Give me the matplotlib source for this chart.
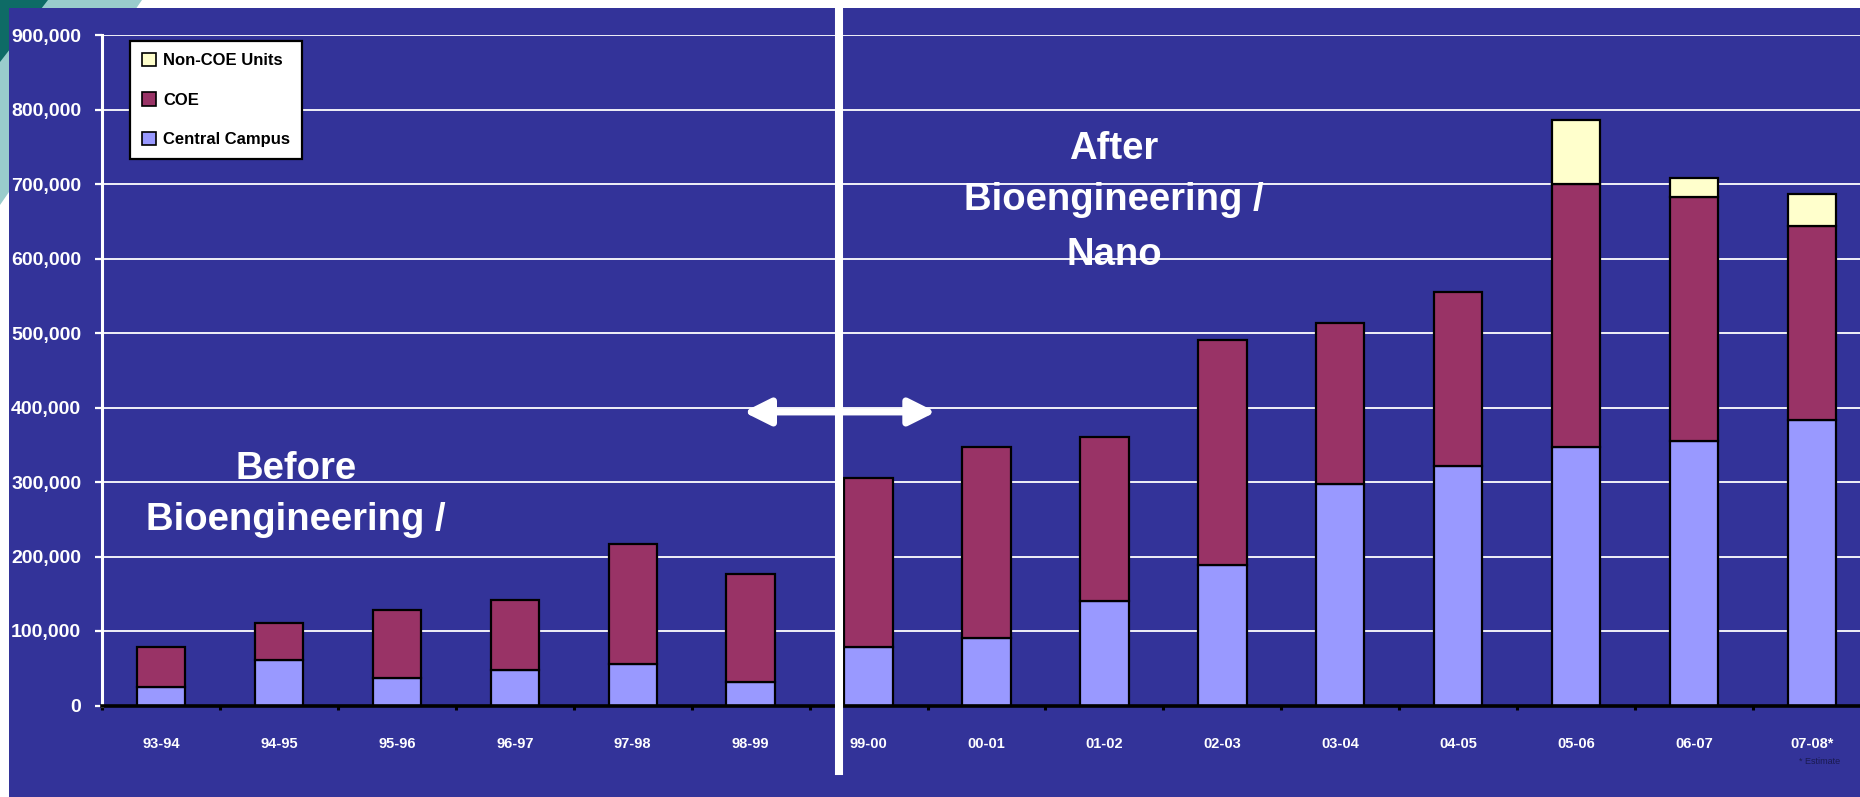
import matplotlib
matplotlib.use("Agg")
import matplotlib.pyplot as plt
import matplotlib.patches as mpatches
import matplotlib.transforms as mtransforms
from matplotlib.lines import Line2D
from matplotlib.ticker import FuncFormatter, FixedLocator
import numpy as np

# ---- data -------------------------------------------------------------
years = ["93-94", "94-95", "95-96", "96-97", "97-98", "98-99", "99-00",
         "00-01", "01-02", "02-03", "03-04", "04-05", "05-06", "06-07", "07-08*"]
central_campus = [25000, 61000, 37000, 48000, 56000, 31000, 78000, 90000,
                  140000, 189000, 297000, 322000, 347000, 355000, 383000]
coe = [53000, 50000, 91000, 94000, 161000, 145000, 228000, 257000,
       221000, 302000, 216000, 233000, 353000, 328000, 261000]
non_coe_units = [0, 0, 0, 0, 0, 0, 0, 0, 0, 0, 0, 0, 86000, 25000, 42000]
series_labels = ["Non-COE Units", "COE", "Central Campus"]
y_ticks = list(range(0, 900001, 100000))

# ---- style ------------------------------------------------------------
BLUE = "#333399"
LAVENDER = "#9999FF"
MAROON = "#993366"
CREAM = "#FFFFCC"
TEAL_LIGHT = "#99CCCC"
TEAL_DARK = "#0E6B66"
FONT = "Liberation Sans"

W, H = 1860, 797
fig = plt.figure(figsize=(W / 100, H / 100), dpi=100, facecolor="white")


def px(x, y):
    """Pixel position (from top-left) to figure fraction."""
    return x / W, 1 - y / H


# slide decoration in the top-left corner and the blue panel
fig.patches.append(mpatches.Polygon([px(0, 0), px(142, 0), px(0, 205)], closed=True,
                                    transform=fig.transFigure, fc=TEAL_LIGHT,
                                    ec="none", zorder=-3))
fig.patches.append(mpatches.Polygon([px(0, 0), px(48, 0), px(0, 62)], closed=True,
                                    transform=fig.transFigure, fc=TEAL_DARK,
                                    ec="none", zorder=-2))
fig.patches.append(mpatches.Rectangle(px(9, H), (W - 9) / W, (H - 8) / H,
                                      transform=fig.transFigure, fc=BLUE,
                                      ec="none", zorder=-1))

ax = fig.add_axes([102 / W, (H - 705.5) / H, 1758 / W, 670.5 / H])
ax.set_facecolor(BLUE)

x = np.arange(len(years))
cc = np.array(central_campus)
ce = np.array(coe)
nc = np.array(non_coe_units)
bw = 0.41
bar_kw = dict(width=bw, edgecolor="black", linewidth=1.6, zorder=3)

ax.bar(x, cc, color=LAVENDER, **bar_kw)
ax.bar(x, ce, bottom=cc, color=MAROON, **bar_kw)
mask = nc > 0
ax.bar(x[mask], nc[mask], bottom=(cc + ce)[mask], color=CREAM, **bar_kw)

ax.set_xlim(-0.5, 14.407)
ax.set_ylim(0, 900000)

# y axis
ax.set_yticks(y_ticks)
ax.yaxis.set_major_formatter(FuncFormatter(lambda v, p: f"{int(v):,}"))
ax.tick_params(axis="y", colors="white", length=5, width=1.6, direction="out",
               labelsize=14, pad=10)
for lab in ax.get_yticklabels():
    lab.set_fontweight("bold")
    lab.set_fontfamily(FONT)
ax.yaxis.grid(True, color="white", linewidth=1.3)
ax.set_axisbelow(True)

# x axis
ax.set_xticks(x)
ax.set_xticklabels(years)
ax.tick_params(axis="x", which="major", length=0, pad=23, labelsize=10.5,
               labelcolor="white")
for lab in ax.get_xticklabels():
    lab.set_fontweight("bold")
    lab.set_fontfamily(FONT)
ax.xaxis.set_minor_locator(FixedLocator(np.arange(-0.5, len(years), 1.0)))
ax.tick_params(axis="x", which="minor", length=3, width=2.2, color="black",
               direction="out")

for side in ("top", "right"):
    ax.spines[side].set_visible(False)
ax.spines["left"].set_color("white")
ax.spines["left"].set_linewidth(2.2)
ax.spines["bottom"].set_color("black")
ax.spines["bottom"].set_linewidth(2.6)
ax.spines["bottom"].set_zorder(4)

# legend
handles = [
    mpatches.Patch(facecolor=CREAM, edgecolor="black", linewidth=1.2, label=series_labels[0]),
    mpatches.Patch(facecolor=MAROON, edgecolor="black", linewidth=1.2, label=series_labels[1]),
    mpatches.Patch(facecolor=LAVENDER, edgecolor="black", linewidth=1.2, label=series_labels[2]),
]
leg = ax.legend(handles=handles, loc="upper left",
                bbox_to_anchor=(28 / 1758, 1 - 6 / 670.5), borderaxespad=0,
                frameon=True, fancybox=False, edgecolor="black",
                facecolor="white", framealpha=1,
                prop=dict(family=FONT, weight="bold", size=12),
                handlelength=0.85, handleheight=0.85, handletextpad=0.45,
                labelspacing=1.45, borderpad=0.7)
leg.get_frame().set_linewidth(1.6)
leg.set_zorder(6)

# divider between the two periods
blend = mtransforms.blended_transform_factory(ax.transData, fig.transFigure)
ax.add_line(Line2D([5.75, 5.75], [1 - 6 / H, 1 - 771 / H], transform=blend,
                   color="white", linewidth=5.8, clip_on=False, zorder=5))

# double-headed arrow across the divider
arrow = mpatches.FancyArrowPatch(
    (4.94, 394000), (6.57, 394000),
    arrowstyle=mpatches.ArrowStyle("<|-|>", head_length=1.6, head_width=0.8),
    mutation_scale=10, linewidth=5, color="white", shrinkA=0, shrinkB=0,
    zorder=5, clip_on=False)
ax.add_patch(arrow)

# period annotations
txt_kw = dict(color="white", fontsize=27.5, fontweight="bold", family=FONT,
              ha="center", va="baseline")
fig.text(*px(296, 479), "Before", **txt_kw)
fig.text(*px(296, 530), "Bioengineering /", **txt_kw)
fig.text(*px(1114, 159), "After", **txt_kw)
fig.text(*px(1114, 210), "Bioengineering /", **txt_kw)
fig.text(*px(1114, 265), "Nano", **txt_kw)

fig.text(*px(1820, 761), "* Estimate", color="#1a1a50", fontsize=6.5,
         family=FONT, ha="center", va="center")

fig.savefig("out.png", dpi=100, facecolor=fig.get_facecolor())
